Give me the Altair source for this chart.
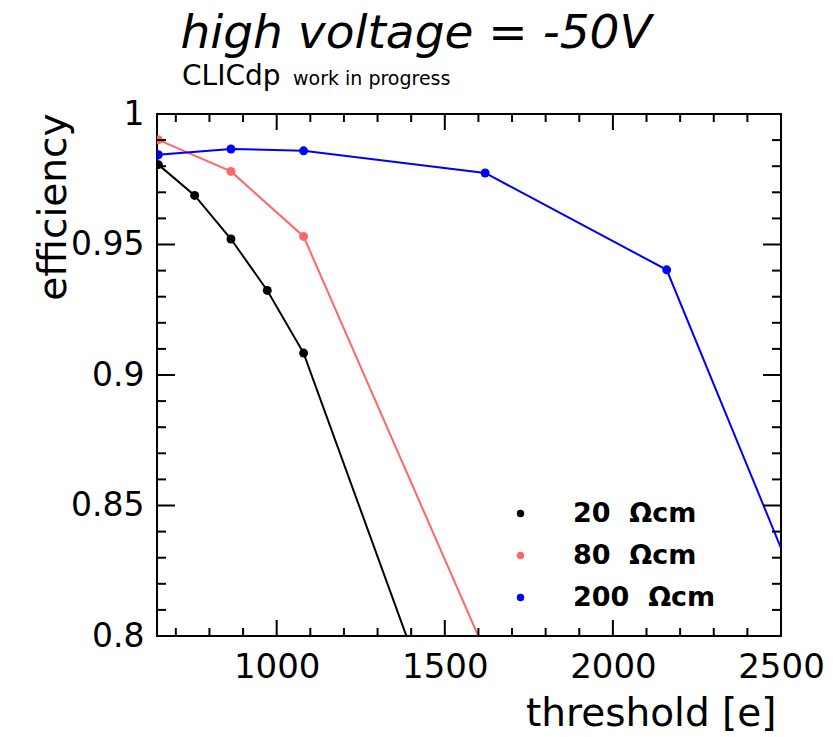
import altair as alt
import pandas as pd

# ---- text -------------------------------------------------------------
title_text = "high voltage = -50V"
tag_main = "CLICdp"
tag_sub = "work in progress"
x_title = "threshold [e]"
y_title = "efficiency"

# ---- measured efficiency vs threshold for three resistivities ----------
series_labels = ["20\u00a0\u00a0\u03a9cm", "80\u00a0\u00a0\u03a9cm", "200\u00a0\u00a0\u03a9cm"]
series_colors = ["#000000", "#ff6666", "#0000ff"]

thr_20 = [648, 756, 864, 972, 1080, 1620]
eff_20 = [0.9806, 0.9688, 0.9521, 0.9324, 0.9084, 0.717]

thr_80 = [648, 864, 1080, 1620]
eff_80 = [0.9901, 0.978, 0.9531, 0.794]

thr_200 = [540, 648, 864, 1080, 1620, 2160, 2700]
eff_200 = [0.905, 0.9844, 0.9866, 0.9859, 0.9774, 0.9403, 0.771]

# ---- axis tick positions ----------------------------------------------
x_major = [1000, 1500, 2000, 2500]
x_minor = [700, 800, 900, 1100, 1200, 1300, 1400, 1600, 1700, 1800, 1900,
           2100, 2200, 2300, 2400]
y_major = [0.8, 0.85, 0.9, 0.95, 1.0]
y_minor = [0.81, 0.82, 0.83, 0.84, 0.86, 0.87, 0.88, 0.89, 0.91, 0.92, 0.93,
           0.94, 0.96, 0.97, 0.98, 0.99]

rows = []
for lab, thr, eff in zip(series_labels, [thr_20, thr_80, thr_200],
                         [eff_20, eff_80, eff_200]):
    for t, e in zip(thr, eff):
        rows.append({"series": lab, "threshold": t, "efficiency": e})
df = pd.DataFrame(rows)

W, H = 624, 522
FONT = "DejaVu Sans"

x_scale = alt.Scale(domain=[644, 2500], nice=False, zero=False)
y_scale = alt.Scale(domain=[0.8, 1.0], nice=False, zero=False)
color_scale = alt.Scale(domain=series_labels, range=series_colors)

x_axis = alt.Axis(
    values=x_major, format="d", domain=False, ticks=False, grid=False,
    labelFont=FONT, labelFontSize=34, labelPadding=14, labelColor="black",
    labelFlush=False, labelOverlap=False,
    title=x_title, titleFont=FONT, titleFontSize=39, titleFontWeight="normal",
    titleColor="black", titleX=619, titleY=89, titleAlign="right",
    titleBaseline="alphabetic", titleAngle=0,
)
y_axis = alt.Axis(
    values=y_major, format="~g", domain=False, ticks=False, grid=False,
    labelFont=FONT, labelFontSize=33, labelPadding=13, labelColor="black",
    labelAlign="right", labelBaseline="middle", labelFlush=False,
    labelOverlap=False,
    title=y_title, titleFont=FONT, titleFontSize=39, titleFontWeight="normal",
    titleColor="black", titleX=-92, titleY=-1, titleAngle=270,
    titleAlign="right", titleBaseline="alphabetic",
)

series_legend = alt.Legend(
    orient="none", legendX=350, legendY=386, title=None,
    labelFont=FONT, labelFontWeight="bold", labelFontSize=27,
    labelColor="black", symbolSize=55, symbolType="circle",
    symbolStrokeWidth=0, symbolOpacity=1, rowPadding=14,
    labelOffset=39, padding=0,
)

base = alt.Chart(df)

lines = base.mark_line(strokeWidth=2, clip=True).encode(
    x=alt.X("threshold:Q", scale=x_scale, axis=x_axis),
    y=alt.Y("efficiency:Q", scale=y_scale, axis=y_axis),
    color=alt.Color("series:N", scale=color_scale, legend=series_legend),
    detail="series:N",
)

points = base.mark_circle(size=80, opacity=1, clip=True).encode(
    x=alt.X("threshold:Q", scale=x_scale),
    y=alt.Y("efficiency:Q", scale=y_scale),
    color=alt.Color("series:N", scale=color_scale, legend=series_legend),
)

# inward tick marks on all four sides of the frame
xmaj = pd.DataFrame({"v": x_major})
xmin = pd.DataFrame({"v": x_minor})
ymaj = pd.DataFrame({"v": y_major})
ymin = pd.DataFrame({"v": y_minor})


def xticks(frame, length):
    enc = dict(x=alt.X("v:Q", scale=x_scale))
    bottom = alt.Chart(frame).mark_rule(color="black", strokeWidth=2).encode(
        y=alt.value(H), y2=alt.value(H - length), **enc)
    top = alt.Chart(frame).mark_rule(color="black", strokeWidth=2).encode(
        y=alt.value(0), y2=alt.value(length), **enc)
    return [bottom, top]


def yticks(frame, length):
    enc = dict(y=alt.Y("v:Q", scale=y_scale))
    left = alt.Chart(frame).mark_rule(color="black", strokeWidth=2).encode(
        x=alt.value(0), x2=alt.value(length), **enc)
    right = alt.Chart(frame).mark_rule(color="black", strokeWidth=2).encode(
        x=alt.value(W), x2=alt.value(W - length), **enc)
    return [left, right]


tick_layers = xticks(xmaj, 16) + xticks(xmin, 8) + yticks(ymaj, 18) + yticks(ymin, 9)

# heading texts above the frame
title_layer = alt.Chart(pd.DataFrame({"t": [title_text]})).mark_text(
    font=FONT, fontSize=47, fontStyle="italic", align="center",
    baseline="alphabetic", color="black",
).encode(text="t:N", x=alt.value(259), y=alt.value(-66))

tag_layer = alt.Chart(pd.DataFrame({"t": [tag_main]})).mark_text(
    font=FONT, fontSize=28, align="left", baseline="alphabetic", color="black",
).encode(text="t:N", x=alt.value(25), y=alt.value(-29))

sub_layer = alt.Chart(pd.DataFrame({"t": [tag_sub]})).mark_text(
    font=FONT, fontSize=19, align="left", baseline="alphabetic", color="black",
).encode(text="t:N", x=alt.value(136), y=alt.value(-29))

chart = alt.layer(
    lines, points, *tick_layers, title_layer, tag_layer, sub_layer
).properties(
    width=W, height=H,
    autosize=alt.AutoSizeParams(type="none"),
    padding={"left": 157, "top": 114, "right": 52, "bottom": 101},
    background="white",
).configure_view(
    stroke="black", strokeWidth=2,
)

chart.save("out.html", embed_options={"renderer": "svg", "actions": False})
